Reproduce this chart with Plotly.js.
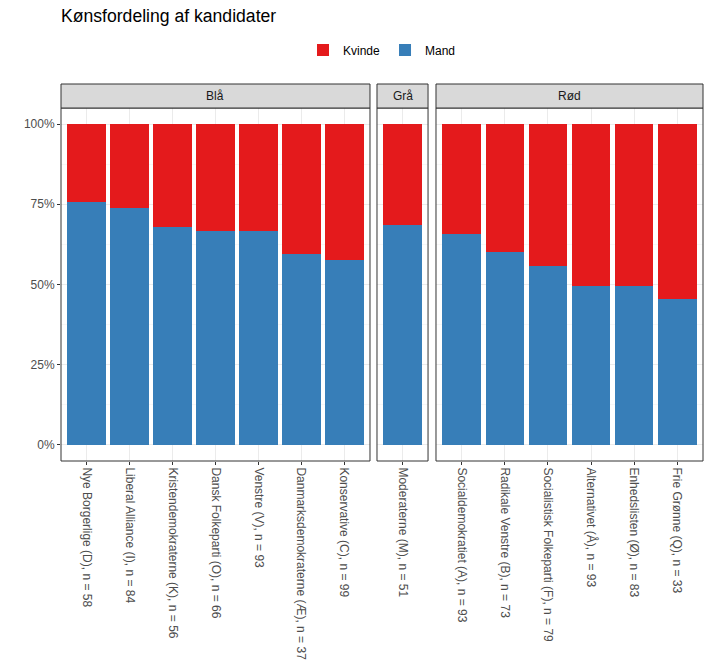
<!DOCTYPE html>
<html>
<head>
<meta charset="utf-8">
<script src="https://cdn.plot.ly/plotly-3.0.1.min.js"></script>
<style>
  html, body { margin: 0; padding: 0; background: white; }
  #chart { width: 706px; height: 671px; }
</style>
</head>
<body>
<div id="chart"></div>
<script>
// Blocks (facets) and the parties in each, left to right
const blocks = ['Blå', 'Grå', 'Rød'];

const partiesBlaa = ['Nye Borgerlige (D)', 'Liberal Alliance (I)', 'Kristendemokraterne (K)',
    'Dansk Folkeparti (O)', 'Venstre (V)', 'Danmarksdemokraterne (Æ)', 'Konservative (C)'];
const nBlaa = [58, 84, 56, 66, 93, 37, 99];
const mandBlaa = [44, 62, 38, 44, 62, 22, 57];

const partiesGraa = ['Moderaterne (M)'];
const nGraa = [51];
const mandGraa = [35];

const partiesRoed = ['Socialdemokratiet (A)', 'Radikale Venstre (B)', 'Socialistisk Folkeparti (F)',
    'Alternativet (Å)', 'Enhedslisten (Ø)', 'Frie Grønne (Q)'];
const nRoed = [93, 73, 79, 93, 83, 33];
const mandRoed = [61, 44, 44, 46, 41, 15];

const yTicks = [0, 0.25, 0.5, 0.75, 1];

const colKvinde = '#E41A1C';
const colMand = '#377EB8';
const fontFam = 'Liberation Sans, Arial, sans-serif';

// panel domains (free space facets)
const domains = [[0, 0.4813], [0.4922, 0.5717], [0.5841, 1]];
const panelData = [
    { parties: partiesBlaa, n: nBlaa, mand: mandBlaa },
    { parties: partiesGraa, n: nGraa, mand: mandGraa },
    { parties: partiesRoed, n: nRoed, mand: mandRoed }
];

const traces = [];
const layout = {
    width: 706,
    height: 671,
    margin: { l: 61, r: 3, t: 108, b: 210 },
    paper_bgcolor: 'white',
    plot_bgcolor: 'white',
    barmode: 'stack',
    bargap: 0.1,
    font: { family: fontFam, size: 12, color: '#4D4D4D' },
    title: {
        text: 'Kønsfordeling af kandidater',
        font: { family: fontFam, size: 17.6, color: '#000000' },
        x: 61 / 706, xanchor: 'left', xref: 'container',
        y: 1 - 16 / 671, yanchor: 'middle', yref: 'container'
    },
    showlegend: true,
    legend: {
        orientation: 'h',
        x: 0.5, xanchor: 'center',
        y: 1 + (108 - 50) / 353, yanchor: 'middle',
        traceorder: 'reversed',
        font: { family: fontFam, size: 12, color: '#000000' },
        itemwidth: 30
    },
    yaxis: {
        domain: [0, 1],
        anchor: 'x',
        range: [-0.05, 1.05],
        tickvals: yTicks,
        tickformat: '.0%',
        ticks: 'outside',
        ticklen: 3,
        tickcolor: '#333333',
        tickfont: { family: fontFam, size: 12, color: '#4D4D4D' },
        showgrid: true,
        gridcolor: '#EBEBEB',
        gridwidth: 1,
        zeroline: false,
        showline: false,
        minor: { tick0: 0.125, dtick: 0.25, showgrid: true, gridcolor: '#F2F2F2', gridwidth: 0.6, ticks: '' }
    },
    shapes: [],
    annotations: []
};

panelData.forEach((p, i) => {
    const xa = i === 0 ? 'x' : 'x' + (i + 1);
    const labels = p.parties.map((name, j) => `${name}, n = ${p.n[j]}`);
    const mandShare = p.mand.map((m, j) => m / p.n[j]);
    const kvindeShare = p.mand.map((m, j) => (p.n[j] - m) / p.n[j]);

    traces.push({
        type: 'bar', x: labels, y: mandShare, xaxis: xa, yaxis: 'y',
        name: 'Mand', legendgroup: 'Mand', showlegend: i === 0,
        marker: { color: colMand, line: { width: 0 } }
    });
    traces.push({
        type: 'bar', x: labels, y: kvindeShare, xaxis: xa, yaxis: 'y',
        name: 'Kvinde', legendgroup: 'Kvinde', showlegend: i === 0,
        marker: { color: colKvinde, line: { width: 0 } }
    });

    layout[i === 0 ? 'xaxis' : 'xaxis' + (i + 1)] = {
        domain: domains[i],
        anchor: 'y',
        type: 'category',
        categoryorder: 'array',
        categoryarray: labels,
        range: [-0.6, labels.length - 0.4],
        tickangle: 90,
        ticks: 'outside',
        ticklen: 3,
        tickcolor: '#333333',
        tickfont: { family: fontFam, size: 12, color: '#4D4D4D' },
        showgrid: true,
        gridcolor: '#EBEBEB',
        gridwidth: 1,
        zeroline: false,
        showline: false,
        fixedrange: true
    };

    // panel border
    layout.shapes.push({
        type: 'rect', xref: xa + ' domain', yref: 'y domain',
        x0: 0, x1: 1, y0: 0, y1: 1,
        line: { color: '#333333', width: 1 }, fillcolor: 'rgba(0,0,0,0)', layer: 'above'
    });
    // strip
    layout.shapes.push({
        type: 'rect', xref: xa + ' domain', yref: 'y domain',
        x0: 0, x1: 1, y0: 1, y1: 1 + 24 / 353,
        line: { color: '#333333', width: 1 }, fillcolor: '#D9D9D9'
    });
    layout.annotations.push({
        text: blocks[i], xref: xa + ' domain', yref: 'y domain',
        x: 0.5, y: 1 + 12 / 353, xanchor: 'center', yanchor: 'middle',
        showarrow: false,
        font: { family: fontFam, size: 12, color: '#1A1A1A' }
    });
});

Plotly.newPlot('chart', traces, layout, { displayModeBar: false, staticPlot: true });
</script>
</body>
</html>
